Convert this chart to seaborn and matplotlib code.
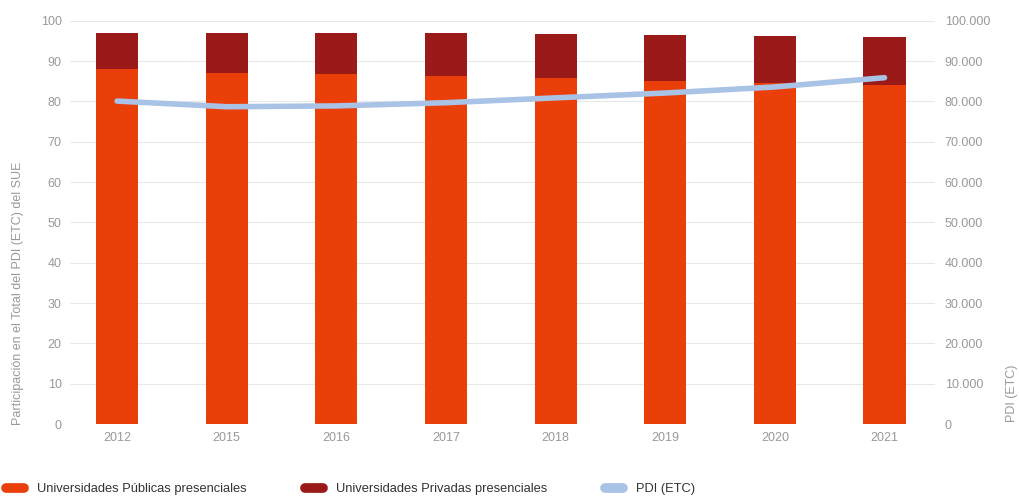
import pandas as pd
import matplotlib.pyplot as plt
from matplotlib.ticker import FuncFormatter
from matplotlib.lines import Line2D
import seaborn as sns

# data
years = ['2012', '2015', '2016', '2017', '2018', '2019', '2020', '2021']
publicas = [88.1, 87.1, 86.7, 86.4, 85.7, 85.2, 84.7, 84.0]
privadas = [8.9, 9.9, 10.3, 10.5, 11.1, 11.3, 11.6, 12.0]
pdi_etc = [80100, 78700, 78900, 79700, 80900, 82100, 83600, 85900]

c_pub = '#EB3F0A'
c_priv = '#9A1A1A'
c_pdi = '#A8C3E6'
c_text = '#999999'

df = pd.DataFrame({'year': years, 'pub': publicas, 'priv': privadas, 'pdi': pdi_etc})
df['total'] = df['pub'] + df['priv']

sns.set_style('white')
plt.rcParams['font.family'] = ['Liberation Sans', 'DejaVu Sans']

fig = plt.figure(figsize=(10.2, 4.96), dpi=100)
ax = fig.add_axes([0.0686, 0.145, 0.848, 0.813])

# stacked bars: total first, then public over it
sns.barplot(data=df, x='year', y='total', color=c_priv, width=0.385, ax=ax,
            saturation=1, linewidth=0)
sns.barplot(data=df, x='year', y='pub', color=c_pub, width=0.385, ax=ax,
            saturation=1, linewidth=0)

ax.set_ylim(0, 100)
ax.set_yticks(range(0, 101, 10))
ax.set_xlim(-0.43, 7.46)
ax.grid(axis='y', color='#e8e8e8', linewidth=0.8)
ax.set_axisbelow(True)
for s in ax.spines.values():
    s.set_visible(False)
ax.tick_params(axis='both', length=0, labelsize=9, colors=c_text, pad=6)
ax.set_xlabel('')
ax.set_ylabel('')

# second axis for the PDI line
ax2 = ax.twinx()
sns.lineplot(x=range(len(years)), y=df['pdi'], color=c_pdi, linewidth=4, ax=ax2,
             solid_capstyle='round')
ax2.set_ylim(0, 100000)
ax2.set_yticks(range(0, 100001, 10000))
ax2.yaxis.set_major_formatter(FuncFormatter(lambda v, p: f'{int(v):,}'.replace(',', '.')))
ax2.tick_params(axis='y', length=0, labelsize=9, colors=c_text, pad=7)
for s in ax2.spines.values():
    s.set_visible(False)
ax2.set_ylabel('')

# axis titles
fig.text(18 / 1020, 71 / 496, 'Participación en el Total del PDI (ETC) del SUE',
         rotation=90, ha='center', va='bottom', fontsize=9, color=c_text)
fig.text(1012 / 1020, 74 / 496, 'PDI (ETC)', rotation=90, ha='center', va='bottom',
         fontsize=9, color=c_text)

# legend at the bottom, one entry per position
labels = ['Universidades Públicas presenciales', 'Universidades Privadas presenciales', 'PDI (ETC)']
colors = [c_pub, c_priv, c_pdi]
xpos = [6, 305, 605]
for lab, col, x in zip(labels, colors, xpos):
    h = Line2D([0], [0], color=col, linewidth=7, solid_capstyle='round')
    leg = fig.legend([h], [lab], loc='center left', bbox_to_anchor=(x / 1020, 1 - 489 / 496),
                     frameon=False, fontsize=9.3, handlelength=1.4, handletextpad=1.0,
                     borderpad=0, borderaxespad=0)
    leg.get_texts()[0].set_color('#333333')

fig.savefig('out.png', dpi=100)
